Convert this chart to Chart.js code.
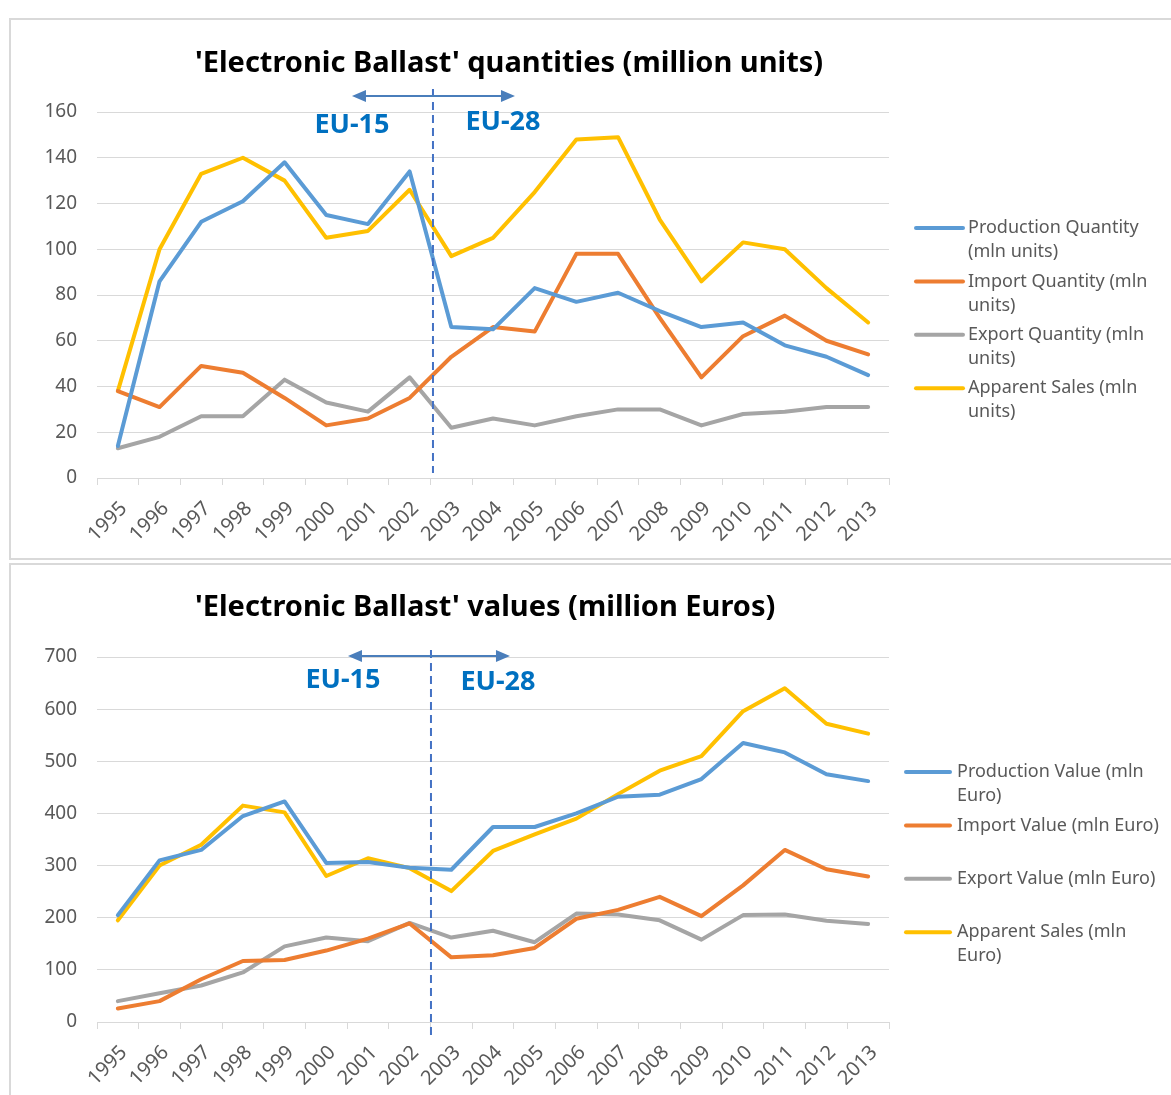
<!DOCTYPE html>
<html>
<head>
<meta charset="utf-8">
<script src="https://cdn.jsdelivr.net/npm/chart.js@4.4.1/dist/chart.umd.min.js"></script>
<style>
  body { margin: 0; background: #fff; width: 1171px; height: 1095px; overflow: hidden; position: relative; }
  .box { position: absolute; left: 9px; border: 2px solid #d9d9d9; }
  #box1 { top: 18px; width: 1200px; height: 538px; }
  #box2 { top: 563px; width: 1200px; height: 600px; }
  canvas { position: absolute; }
  #qtyChart { left: 11px; top: 20px; }
  #valChart { left: 11px; top: 565px; }
</style>
</head>
<body>
<div class="box" id="box1"></div>
<div class="box" id="box2"></div>
<canvas id="qtyChart" width="1160" height="538"></canvas>
<canvas id="valChart" width="1160" height="530"></canvas>
<script>
const years = ["1995", "1996", "1997", "1998", "1999", "2000", "2001", "2002", "2003", "2004",
  "2005", "2006", "2007", "2008", "2009", "2010", "2011", "2012", "2013"];
const euSplitIndex = 8; // 2003: first year of EU-28 data

// million units
const qtyProduction = [14, 86, 112, 121, 138, 115, 111, 134, 66, 65, 83, 77, 81, 73, 66, 68, 58, 53, 45];
const qtyImport = [38, 31, 49, 46, 35, 23, 26, 35, 53, 66, 64, 98, 98, 70, 44, 62, 71, 60, 54];
const qtyExport = [13, 18, 27, 27, 43, 33, 29, 44, 22, 26, 23, 27, 30, 30, 23, 28, 29, 31, 31];
const qtySales = [38, 100, 133, 140, 130, 105, 108, 126, 97, 105, 125, 148, 149, 113, 86, 103, 100, 83, 68];

// million Euros
const valProduction = [205, 310, 330, 395, 423, 305, 307, 296, 292, 374, 374, 400, 432, 436, 466, 535, 517, 475, 462];
const valImport = [26, 40, 82, 117, 119, 137, 160, 189, 124, 128, 142, 198, 215, 240, 203, 262, 330, 293, 279];
const valExport = [40, 55, 70, 95, 145, 162, 155, 190, 162, 175, 153, 208, 206, 195, 158, 205, 206, 194, 188];
const valSales = [195, 300, 340, 415, 402, 280, 314, 295, 251, 328, 360, 390, 437, 482, 510, 596, 640, 572, 553];

const qtyLegend = [["Production Quantity", "(mln units)"], ["Import Quantity (mln", "units)"],
  ["Export Quantity (mln", "units)"], ["Apparent Sales (mln", "units)"]];
const valLegend = [["Production Value (mln", "Euro)"], ["Import Value (mln Euro)"],
  ["Export Value (mln Euro)"], ["Apparent Sales (mln", "Euro)"]];

const qtyAxis = { max: 160, step: 20 };
const valAxis = { max: 700, step: 100 };

const seriesColors = ["#5B9BD5", "#ED7D31", "#A5A5A5", "#FFC000"];
const FONT = "'Noto Sans', sans-serif";

// title, EU-15/EU-28 marker and wrapped legend, all drawn on the canvas
const decorPlugin = {
  id: "decor",
  afterDatasetsDraw(chart, args, opts) {
    const c = chart.ctx;
    const x = chart.scales.x;
    const splitX = (x.getPixelForValue(euSplitIndex - 1) + x.getPixelForValue(euSplitIndex)) / 2 + opts.dashDx;
    c.save();

    c.fillStyle = "#000";
    c.font = "bold 29px " + FONT;
    c.textBaseline = "middle";
    c.textAlign = "left";
    c.fillText(opts.title, opts.titleX, opts.titleY);

    c.strokeStyle = "#4472C4";
    c.lineWidth = 2;
    c.setLineDash([8, 5]);
    c.beginPath();
    c.moveTo(splitX, opts.dashTop);
    c.lineTo(splitX, opts.dashBottom);
    c.stroke();
    c.setLineDash([]);

    const ax1 = splitX + opts.arrowLeft, ax2 = splitX + opts.arrowRight, ay = opts.arrowY;
    c.strokeStyle = "#4A7EBB";
    c.fillStyle = "#4A7EBB";
    c.beginPath();
    c.moveTo(ax1 + 12, ay);
    c.lineTo(ax2 - 12, ay);
    c.stroke();
    c.beginPath();
    c.moveTo(ax1, ay); c.lineTo(ax1 + 14, ay - 6); c.lineTo(ax1 + 14, ay + 6); c.closePath();
    c.moveTo(ax2, ay); c.lineTo(ax2 - 14, ay - 6); c.lineTo(ax2 - 14, ay + 6); c.closePath();
    c.fill();

    c.fillStyle = "#0070C0";
    c.font = "bold 27px " + FONT;
    c.textAlign = "center";
    c.fillText("EU-15", splitX + opts.eu15[0], opts.eu15[1]);
    c.fillText("EU-28", splitX + opts.eu28[0], opts.eu28[1]);

    c.font = "18px " + FONT;
    c.textAlign = "left";
    chart.data.datasets.forEach((ds, i) => {
      const y = opts.legendY + i * 53.4;
      c.strokeStyle = ds.borderColor;
      c.lineWidth = 4;
      c.lineCap = "round";
      c.beginPath();
      c.moveTo(opts.legendLine[0], y);
      c.lineTo(opts.legendLine[1], y);
      c.stroke();
      c.fillStyle = "#595959";
      ds.legendLines.forEach((t, j) => c.fillText(t, opts.legendText, y + j * 24));
    });
    c.restore();
  }
};

function makeChart(id, series, legend, axis, decor, xHeight) {
  return new Chart(document.getElementById(id), {
    type: "line",
    data: {
      labels: years,
      datasets: series.map((s, i) => ({
        label: legend[i].join(" "),
        legendLines: legend[i],
        data: s,
        borderColor: seriesColors[i],
        backgroundColor: seriesColors[i],
        borderWidth: 4,
        pointRadius: 0,
        tension: 0,
        borderJoinStyle: "round",
        borderCapStyle: "round"
      }))
    },
    options: {
      responsive: false,
      animation: false,
      layout: { padding: { left: 0, top: 92, right: 282, bottom: 10 } },
      plugins: { legend: { display: false }, tooltip: { enabled: false }, decor: decor },
      scales: {
        x: {
          offset: true,
          grid: { drawOnChartArea: false, drawTicks: true, tickLength: 7, offset: true, color: "#d9d9d9" },
          border: { color: "#d9d9d9" },
          ticks: { minRotation: 45, maxRotation: 45, autoSkip: false, padding: 12, labelOffset: 6, color: "#595959", font: { size: 20, family: FONT } },
          afterFit(scale) { scale.height = xHeight; }
        },
        y: {
          min: 0,
          max: axis.max,
          grid: { color: "#d9d9d9", drawTicks: false },
          border: { display: false },
          ticks: { stepSize: axis.step, padding: 20, color: "#595959", font: { size: 19, family: FONT } },
          afterFit(scale) { scale.width = 86; }
        }
      }
    },
    plugins: [decorPlugin]
  });
}

makeChart("qtyChart", [qtyProduction, qtyImport, qtyExport, qtySales], qtyLegend, qtyAxis, {
  title: "'Electronic Ballast' quantities (million units)", titleX: 184, titleY: 44,
  dashDx: 2.5, dashTop: 69, dashBottom: 453,
  arrowLeft: -81, arrowRight: 82, arrowY: 76,
  eu15: [-81, 105], eu28: [70, 102],
  legendY: 208, legendLine: [905, 952], legendText: 957
}, 70);

makeChart("valChart", [valProduction, valImport, valExport, valSales], valLegend, valAxis, {
  title: "'Electronic Ballast' values (million Euros)", titleX: 184, titleY: 43,
  dashDx: 0.5, dashTop: 85, dashBottom: 470,
  arrowLeft: -83, arrowRight: 79, arrowY: 91,
  eu15: [-88, 115], eu28: [67, 117],
  legendY: 207, legendLine: [895, 939], legendText: 946
}, 63);
</script>
</body>
</html>
